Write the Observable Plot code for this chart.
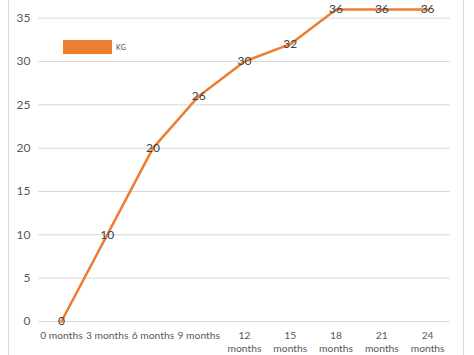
<!DOCTYPE html>
<html>
<head>
<meta charset="utf-8">
<script src="https://cdn.jsdelivr.net/npm/d3@7"></script>
<script src="https://cdn.jsdelivr.net/npm/@observablehq/plot@0.6"></script>
<style>
  html, body { margin: 0; padding: 0; background: #fff; }
  #wrap { position: relative; width: 474px; height: 355px; overflow: hidden; font-family: Lato, "Liberation Sans", sans-serif; }
  #frame { position: absolute; left: 8px; top: -1px; width: 454px; height: 360px; border-left: 1px solid #d9d9d9; border-right: 1px solid #d9d9d9; }
  #chart { position: absolute; left: 0; top: 0; }
  #legend { position: absolute; left: 63px; top: 40px; display: flex; align-items: center; }
  #legend .sw { width: 49px; height: 14px; background: #ED7D31; }
  #legend .lb { margin-left: 4px; font-size: 7px; color: #404040; letter-spacing: 0.3px; }
</style>
</head>
<body>
<div id="wrap">
  <div id="frame"></div>
  <div id="chart"></div>
  <div id="legend"><div class="sw"></div><div class="lb">KG</div></div>
</div>
<script>
const months = ["0 months", "3 months", "6 months", "9 months", "12\nmonths", "15\nmonths", "18\nmonths", "21\nmonths", "24\nmonths"];
const kg = [0, 10, 20, 26, 30, 32, 36, 36, 36];
const yTicks = [0, 5, 10, 15, 20, 25, 30, 35];

const data = months.map((m, i) => ({month: m, kg: kg[i]}));

const chart = Plot.plot({
  width: 474,
  height: 355,
  marginLeft: 38,
  marginRight: 24,
  marginTop: 9,
  marginBottom: 34,
  style: {fontFamily: "Lato, 'Liberation Sans', sans-serif", fontSize: "12px", color: "#595959", background: "transparent"},
  x: {type: "band", domain: months, padding: 0, round: false, label: null, tickSize: 0, tickPadding: 6},
  y: {domain: [0, 36], ticks: yTicks, label: null, tickSize: 0, tickPadding: 8},
  marks: [
    Plot.gridY(yTicks, {stroke: "#d9d9d9", strokeOpacity: 1, strokeWidth: 1}),
    Plot.axisY({ticks: yTicks, tickSize: 0, tickPadding: 8, fill: "#595959", fontSize: 12}),
    Plot.axisX({tickSize: 0, tickPadding: 8, fill: "#595959", fontSize: 10.3, lineHeight: 1.3}),
    Plot.line(data, {x: "month", y: "kg", stroke: "#ED7D31", strokeWidth: 2.5}),
    Plot.text(data, {x: "month", y: "kg", text: d => String(d.kg), fill: "#404040", fontSize: 12})
  ]
});
document.getElementById("chart").appendChild(chart);
</script>
</body>
</html>
